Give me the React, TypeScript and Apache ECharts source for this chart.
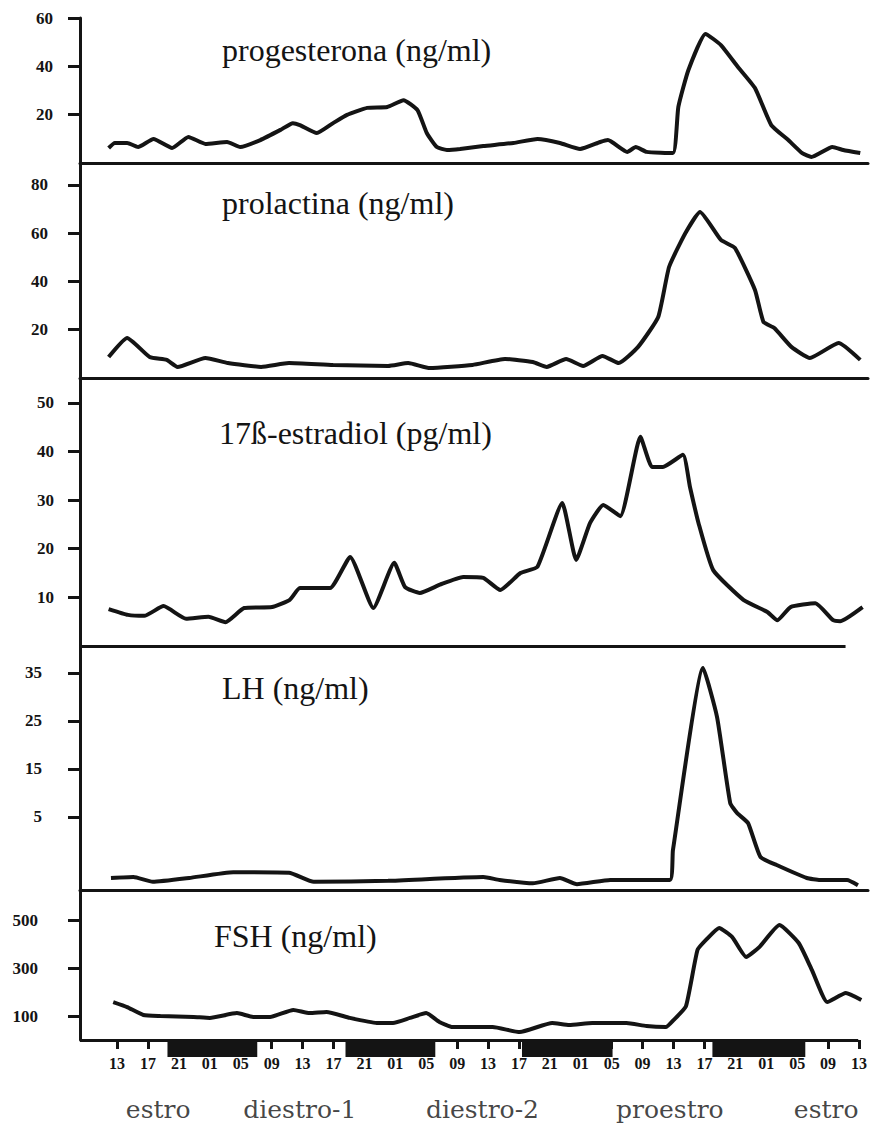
import React, { useEffect, useRef } from 'react';
import * as echarts from 'echarts';

// ---------- data (hours since 13:00 of day 1, values as read) ----------
const xTickHours = [0, 4, 8, 12, 16, 20, 24, 28, 32, 36, 40, 44, 48, 52, 56, 60, 64, 68, 72, 76, 80, 84, 88, 92, 96];
const xTickLabels = ['13', '17', '21', '01', '05', '09', '13', '17', '21', '01', '05', '09', '13', '17', '21', '01', '05', '09', '13', '17', '21', '01', '05', '09', '13'];

const progesteronaT = [-1.1, -0.3, 1.3, 2.7, 4.7, 7.1, 9.2, 11.4, 14.2, 15.9, 18.5, 21.1, 22.7, 23.6, 25.8, 27.9, 29.7, 32.3, 34.9, 37, 38.8, 40, 41.3, 42.6, 44.3, 47.3, 51.2, 54.3, 57.2, 59.8, 62.4, 63.4, 65.9, 67, 68.4, 71.8, 72.5, 73.8, 76, 78, 80.2, 82.4, 84.5, 86.7, 88.5, 89.7, 92.4, 93.8, 96];
const progesteronaV = [6.2, 8.3, 8.3, 6.6, 9.9, 6.2, 10.8, 7.9, 8.7, 6.6, 9.5, 13.7, 16.5, 15.7, 12.4, 16.5, 19.9, 22.8, 23.2, 26, 21.9, 12.4, 6.6, 5.4, 5.8, 7, 8.3, 9.9, 8.3, 5.8, 8.7, 9.5, 4.6, 6.6, 4.6, 4.1, 23.2, 38.5, 53.4, 48.8, 39.7, 31, 15.7, 9.5, 4.1, 2.5, 6.6, 5.4, 4.1];

const prolactinaT = [-1.1, 1.3, 4.2, 6.4, 7.8, 11.4, 14.3, 18.6, 22.2, 27.9, 35, 37.6, 40.4, 45.9, 50.1, 53.7, 55.5, 58, 60.2, 62.7, 64.8, 67.3, 69.9, 71.3, 73.4, 75.3, 78, 79.8, 82.4, 83.5, 84.9, 87.1, 89.5, 93.2, 96];
const prolactinaV = [8.7, 16.6, 8.7, 7.5, 4.6, 8.3, 6.2, 4.6, 6.2, 5.4, 5, 6.2, 4.1, 5.4, 7.9, 6.6, 4.6, 7.9, 5, 9.1, 6.2, 12.9, 25.3, 46, 60, 68.8, 57.2, 53.9, 36.5, 23.2, 20.7, 12.9, 8.3, 14.5, 7.5];

const estradiolT = [-1.1, 1.4, 3.5, 6, 8.9, 11.8, 14, 16.4, 20, 22.3, 23.6, 27.5, 30.1, 33.1, 35.8, 37.2, 39.1, 41.7, 44.7, 47.3, 49.5, 52.1, 54.3, 57.5, 59.3, 61.1, 62.8, 65, 67.6, 69.1, 70.5, 73.1, 74, 75.1, 77, 80.9, 84, 85.3, 87, 90.2, 92.5, 93.4, 96.3];
const estradiolV = [7.6, 6.4, 6.2, 8.2, 5.6, 6, 4.9, 7.8, 8, 9.5, 11.9, 11.9, 18.3, 7.8, 17.1, 12.1, 10.9, 12.6, 14.2, 14, 11.5, 15, 16.3, 29.4, 17.7, 25.3, 29, 26.7, 43, 36.8, 36.8, 39.3, 32.7, 25.3, 15.6, 9.5, 7, 5.3, 8, 8.8, 5.3, 5.1, 8];

const lhT = [-0.8, 2.1, 4.6, 9.3, 15, 22.2, 25.4, 35, 47.3, 49.4, 53.7, 57.2, 59.4, 63.7, 71.4, 71.8, 75.7, 77.5, 79.2, 80.1, 81.5, 83.1, 85.2, 89.1, 90.8, 94.3, 95.7];
const lhV = [-7.7, -7.5, -8.5, -7.7, -6.5, -6.6, -8.5, -8.3, -7.5, -8.1, -8.8, -7.7, -9, -8.1, -8.1, -1.9, 36, 25.8, 7.9, 5.8, 3.75, -3.3, -5, -7.7, -8.1, -8.1, -9.2];

const fshT = [-0.5, 1.3, 3.4, 5.6, 9.9, 12, 15.5, 17.6, 19.8, 22.8, 24.9, 27.1, 30.1, 33.6, 35.7, 37.9, 40, 41.7, 43.4, 48.6, 52.1, 56.3, 58.5, 61.5, 65.9, 68.5, 71, 72, 73.6, 75.1, 76.2, 77.9, 79.6, 81.4, 83.1, 85.7, 88.2, 89.9, 91.9, 94.3, 96.3];
const fshV = [158, 137, 104, 100, 96, 92, 112, 96, 96, 125, 112, 117, 92, 71, 71, 92, 112, 75, 54, 54, 33, 71, 62, 71, 71, 58, 54, 83, 140, 375, 417, 467, 429, 346, 387, 479, 404, 292, 158, 196, 167];

const progesteronaTicks = [20, 40, 60];
const prolactinaTicks = [20, 40, 60, 80];
const estradiolTicks = [10, 20, 30, 40, 50];
const lhTicks = [5, 15, 25, 35];
const fshTicks = [100, 300, 500];

const nightStart = [6.5, 29.5, 52.3, 76.9];
const nightEnd = [18.1, 41.1, 64.0, 88.9];

const phaseNames = ['estro', 'diestro-1', 'diestro-2', 'proestro', 'estro'];
const phaseCenters = [5.3, 23.6, 47.2, 71.4, 91.6];

const titles = ['progesterona (ng/ml)', 'prolactina (ng/ml)', '17ß-estradiol (pg/ml)', 'LH (ng/ml)', 'FSH (ng/ml)'];

// ---------- layout / style ----------
const INK = '#141414';
const X_MIN = -4.8;
const X_MAX = 97;
const GRID_LEFT = 80;
const GRID_RIGHT = 2;

const panels = [
  { T: progesteronaT, V: progesteronaV, ticks: progesteronaTicks, top: 18, height: 145, min: 0, max: 60, margin: 27, titleLeft: 222, titleY: 50, lineEnd: null as number | null, showLine: true },
  { T: prolactinaT, V: prolactinaV, ticks: prolactinaTicks, top: 163, height: 215, min: 0, max: 89.1, margin: 32, titleLeft: 222, titleY: 203, lineEnd: null, showLine: true },
  { T: estradiolT, V: estradiolV, ticks: estradiolTicks, top: 378, height: 268, min: 0, max: 55.1, margin: 26, titleLeft: 219, titleY: 433, lineEnd: 94.1, showLine: false },
  { T: lhT, V: lhV, ticks: lhTicks, top: 646, height: 244, min: -10.2, max: 40.6, margin: 38, titleLeft: 222, titleY: 688, lineEnd: null, showLine: true },
  { T: fshT, V: fshV, ticks: fshTicks, top: 890, height: 150, min: 0, max: 625, margin: 42, titleLeft: 214, titleY: 936, lineEnd: 95.9, showLine: false },
];

export default function App() {
  const ref = useRef<HTMLDivElement>(null);

  useEffect(() => {
    if (!ref.current) return;
    const chart = echarts.init(ref.current, null, { renderer: 'svg' });

    const grids: any[] = [];
    const xAxes: any[] = [];
    const yAxes: any[] = [];
    const series: any[] = [];
    const titleOpts: any[] = [];

    panels.forEach((p, i) => {
      const isBottom = i === panels.length - 1;
      grids.push({ left: GRID_LEFT, right: GRID_RIGHT, top: p.top, height: p.height });
      xAxes.push({
        gridIndex: i,
        type: 'value',
        min: X_MIN,
        max: X_MAX,
        axisLine: { show: p.showLine, onZero: false, lineStyle: { color: INK, width: 3 } },
        axisTick: isBottom
          ? { show: true, customValues: xTickHours, length: 9, inside: false, lineStyle: { color: INK, width: 3 } }
          : { show: false },
        axisLabel: isBottom
          ? {
              show: true,
              customValues: xTickHours,
              margin: 15,
              formatter: (v: number) => {
                const idx = xTickHours.indexOf(Math.round(v));
                return idx >= 0 ? xTickLabels[idx] : '';
              },
              fontFamily: 'Liberation Serif',
              fontSize: 16,
              fontWeight: 'bold',
              color: INK,
            }
          : { show: false },
        splitLine: { show: false },
      });
      yAxes.push({
        gridIndex: i,
        type: 'value',
        min: p.min,
        max: p.max,
        axisLine: { show: true, onZero: false, lineStyle: { color: INK, width: 3 } },
        axisTick: { show: true, customValues: p.ticks, length: 12, lineStyle: { color: INK, width: 3 } },
        axisLabel: {
          show: true,
          customValues: p.ticks,
          margin: p.margin,
          fontFamily: 'Liberation Serif',
          fontSize: 17,
          fontWeight: 'bold',
          color: INK,
        },
        splitLine: { show: false },
      });
      const s: any = {
        type: 'line',
        xAxisIndex: i,
        yAxisIndex: i,
        data: p.T.map((t, j) => [t, p.V[j]]),
        showSymbol: false,
        smooth: 0.15,
        clip: false,
        lineStyle: { color: INK, width: 4 },
        silent: true,
      };
      if (p.lineEnd !== null) {
        s.markLine = {
          silent: true,
          symbol: ['none', 'none'],
          label: { show: false },
          lineStyle: { type: 'solid', color: INK, width: 3 },
          data: [[{ coord: [X_MIN, p.min] }, { coord: [p.lineEnd, p.min] }]],
        };
      }
      series.push(s);
      titleOpts.push({
        text: titles[i],
        left: p.titleLeft,
        top: p.titleY - 16,
        padding: 0,
        textStyle: { fontFamily: 'Liberation Serif', fontSize: 32, lineHeight: 32, fontWeight: 'normal', color: INK },
      });
    });

    // night bars row
    const nightIdx = panels.length;
    grids.push({ left: GRID_LEFT, right: GRID_RIGHT, top: 1041, height: 16 });
    xAxes.push({ gridIndex: nightIdx, type: 'value', min: X_MIN, max: X_MAX, show: false });
    yAxes.push({ gridIndex: nightIdx, type: 'value', min: 0, max: 1, show: false });
    series.push({
      type: 'custom',
      xAxisIndex: nightIdx,
      yAxisIndex: nightIdx,
      silent: true,
      data: nightStart.map((s, i) => [s, nightEnd[i]]),
      encode: { x: [0, 1] },
      renderItem: (_params: any, api: any) => {
        const a = api.coord([api.value(0), 1]);
        const b = api.coord([api.value(1), 0]);
        return {
          type: 'rect',
          shape: { x: a[0], y: a[1], width: b[0] - a[0], height: b[1] - a[1] },
          style: { fill: INK },
        };
      },
    });

    // phase labels row
    const phaseIdx = panels.length + 1;
    grids.push({ left: GRID_LEFT, right: GRID_RIGHT, top: 1095, height: 28 });
    xAxes.push({ gridIndex: phaseIdx, type: 'value', min: X_MIN, max: X_MAX, show: false });
    yAxes.push({ gridIndex: phaseIdx, type: 'value', min: 0, max: 1, show: false });
    series.push({
      type: 'scatter',
      xAxisIndex: phaseIdx,
      yAxisIndex: phaseIdx,
      symbolSize: 0,
      silent: true,
      data: phaseCenters.map((t, i) => ({ value: [t, 0.5], name: phaseNames[i] })),
      label: {
        show: true,
        position: 'inside',
        formatter: '{b}',
        fontFamily: 'DejaVu Serif',
        fontSize: 25,
        color: INK,
      },
    });

    chart.setOption({
      animation: false,
      backgroundColor: '#ffffff',
      title: titleOpts,
      grid: grids,
      xAxis: xAxes,
      yAxis: yAxes,
      series,
    });

    return () => chart.dispose();
  }, []);

  return (
    <div
      ref={ref}
      style={{ position: 'fixed', left: 0, top: 0, width: 870, height: 1130, background: '#ffffff' }}
    />
  );
}
